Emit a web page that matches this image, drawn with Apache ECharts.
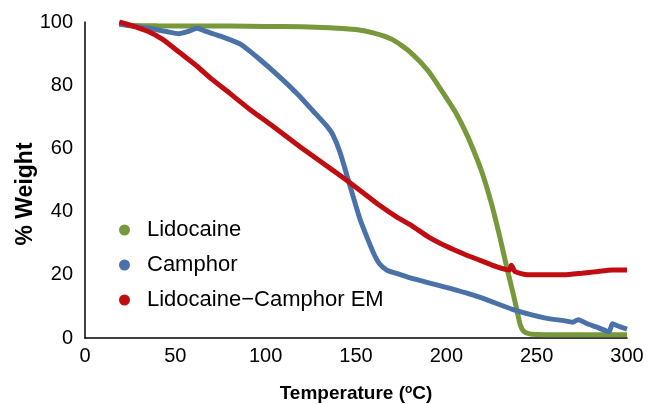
<!DOCTYPE html>
<html><head><meta charset="utf-8">
<script src="https://cdn.jsdelivr.net/npm/echarts@6/dist/echarts.min.js"></script>
<style>html,body{margin:0;padding:0;background:#fff}#c{width:651px;height:404px}</style>
</head><body><div id="c"></div>
<script>
var seriesNames = ['Lidocaine', 'Camphor', 'Lidocaine\u2212Camphor EM'];
var xTicks = [0, 50, 100, 150, 200, 250, 300];
var yTicks = [0, 20, 40, 60, 80, 100];

var lidoT = [19, 25, 40, 60, 80, 100, 120, 135, 150, 160, 170, 180, 190, 200, 205, 210, 215, 220, 225, 230, 234, 237, 239, 241, 243, 246, 250, 260, 270, 280, 290, 300];
var lidoW = [99.5, 99, 98.8, 98.7, 98.7, 98.6, 98.5, 98.2, 97.6, 96.5, 94.5, 90.5, 84.5, 76, 71.5, 66, 59.5, 52, 42.5, 31, 21, 14, 9, 4, 2, 1.3, 1.1, 1, 1, 1, 1, 1];

var campT = [19, 25, 35, 45, 52, 57, 62, 67, 75, 86, 95, 108, 118, 126, 134, 137, 141, 147, 152, 156, 160, 163, 167, 172, 180, 200, 218, 237, 255, 265, 270, 273, 278, 283, 290, 292, 295, 300];
var campW = [99.3, 98.8, 98, 97, 96.3, 97, 98, 97, 95.5, 93, 89, 82.5, 77, 72, 67, 64.5, 59, 47.5, 38, 32, 26.5, 23.5, 21.5, 20.5, 19, 16, 13, 9, 6.3, 5.5, 5, 5.8, 4.5, 3.5, 2, 4.5, 3.8, 2.8];

var emT = [19, 25, 35, 43, 52, 62, 70, 80, 92, 104, 119, 130, 141, 147, 155, 163, 172, 181, 190, 200, 210, 219, 228, 235, 236, 238, 245, 255, 265, 275, 283, 292, 300];
var emW = [100, 99, 97, 94.5, 90.5, 86, 82, 77.5, 72, 67, 60.5, 56, 51.5, 49, 45.5, 42, 38.5, 35.5, 32, 29, 26.5, 24.5, 22.5, 21.5, 23, 21, 20, 20, 20, 20.5, 21, 21.5, 21.5];

function pairs(t, w) { return t.map(function (v, i) { return [v, w[i]]; }); }

var colors = ['#77983b', '#4a72a8', '#c00d12'];
var font = 'Liberation Sans, Arial, sans-serif';
var chart = echarts.init(document.getElementById('c'));
chart.setOption({
  animation: false,
  color: colors,
  grid: { left: 85, right: 24, top: 22, bottom: 66, outerBoundsMode: 'none', containLabel: false },
  legend: {
    orient: 'vertical', left: 114, top: 214, itemGap: 13,
    icon: 'circle', itemWidth: 11, itemHeight: 11,
    textStyle: { fontSize: 22, color: '#000', fontFamily: font, padding: [0, 0, 0, 12] },
    data: seriesNames
  },
  xAxis: {
    type: 'value', min: xTicks[0], max: xTicks[xTicks.length - 1], interval: 50,
    name: '{a|Temperature (}{b|o}{a|C)}', nameLocation: 'middle', nameGap: 46, nameMoveOverlap: false,
    nameTextStyle: { rich: {
      a: { fontSize: 19, fontWeight: 'bold', color: '#000', fontFamily: font },
      b: { fontSize: 12, fontWeight: 'bold', color: '#000', fontFamily: font, padding: [0, 0, 8, 0] }
    } },
    axisLine: { lineStyle: { color: '#000', width: 1.5 } },
    axisTick: { show: false },
    splitLine: { show: false },
    axisLabel: { fontSize: 20, color: '#000', fontFamily: font, margin: 8 }
  },
  yAxis: {
    type: 'value', min: yTicks[0], max: yTicks[yTicks.length - 1], interval: 20,
    name: '% Weight', nameLocation: 'middle', nameGap: 48, nameMoveOverlap: false,
    nameTextStyle: { fontSize: 23, fontWeight: 'bold', color: '#000', fontFamily: font, padding: [0, 28, 0, 0] },
    axisLine: { show: true, lineStyle: { color: '#000', width: 1.5 } },
    axisTick: { show: false },
    splitLine: { show: false },
    axisLabel: { fontSize: 20, color: '#000', fontFamily: font, margin: 12 }
  },
  series: [
    { name: seriesNames[0], type: 'line', data: pairs(lidoT, lidoW), showSymbol: false, smooth: 0.2, lineStyle: { width: 5 } },
    { name: seriesNames[1], type: 'line', data: pairs(campT, campW), showSymbol: false, smooth: 0.2, lineStyle: { width: 5 } },
    { name: seriesNames[2], type: 'line', data: pairs(emT, emW), showSymbol: false, smooth: 0.2, lineStyle: { width: 5 } }
  ]
});
</script></body></html>
